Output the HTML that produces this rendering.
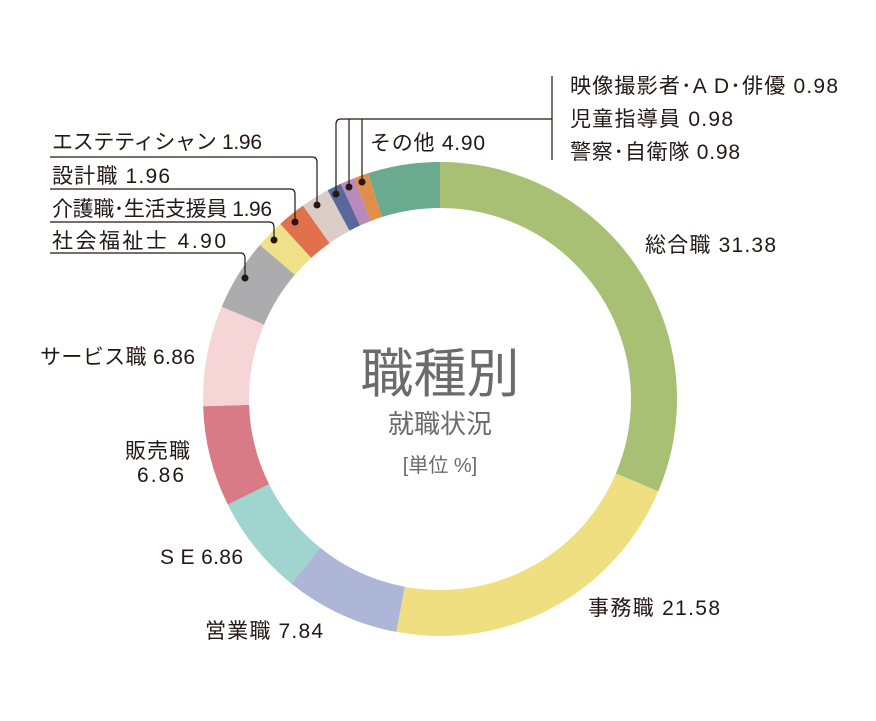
<!DOCTYPE html>
<html><head><meta charset="utf-8"><style>
body{margin:0;background:#fff}
svg text{font-family:"Liberation Sans","Noto Sans CJK JP",sans-serif;fill:#231815;font-size:21px}
</style></head><body>
<svg width="876" height="716" viewBox="0 0 876 716" xmlns="http://www.w3.org/2000/svg">
<g transform="rotate(-90 440 399)" fill="none" stroke-width="46">
<circle cx="440" cy="399" r="214" pathLength="100" stroke="#a7c074" stroke-dasharray="31.38 100" stroke-dashoffset="0"/>
<circle cx="440" cy="399" r="214" pathLength="100" stroke="#efdf80" stroke-dasharray="21.58 100" stroke-dashoffset="-31.38"/>
<circle cx="440" cy="399" r="214" pathLength="100" stroke="#adb6d6" stroke-dasharray="7.84 100" stroke-dashoffset="-52.96"/>
<circle cx="440" cy="399" r="214" pathLength="100" stroke="#a0d4cf" stroke-dasharray="6.86 100" stroke-dashoffset="-60.8"/>
<circle cx="440" cy="399" r="214" pathLength="100" stroke="#d97a87" stroke-dasharray="6.86 100" stroke-dashoffset="-67.66"/>
<circle cx="440" cy="399" r="214" pathLength="100" stroke="#f5d5d6" stroke-dasharray="6.86 100" stroke-dashoffset="-74.52"/>
<circle cx="440" cy="399" r="214" pathLength="100" stroke="#acacae" stroke-dasharray="4.9 100" stroke-dashoffset="-81.38"/>
<circle cx="440" cy="399" r="214" pathLength="100" stroke="#efe187" stroke-dasharray="1.96 100" stroke-dashoffset="-86.28"/>
<circle cx="440" cy="399" r="214" pathLength="100" stroke="#e0714c" stroke-dasharray="1.96 100" stroke-dashoffset="-88.24"/>
<circle cx="440" cy="399" r="214" pathLength="100" stroke="#d9cdc5" stroke-dasharray="1.96 100" stroke-dashoffset="-90.2"/>
<circle cx="440" cy="399" r="214" pathLength="100" stroke="#58689a" stroke-dasharray="0.98 100" stroke-dashoffset="-92.16"/>
<circle cx="440" cy="399" r="214" pathLength="100" stroke="#b98bbb" stroke-dasharray="0.98 100" stroke-dashoffset="-93.14"/>
<circle cx="440" cy="399" r="214" pathLength="100" stroke="#e08e48" stroke-dasharray="0.98 100" stroke-dashoffset="-94.12"/>
<circle cx="440" cy="399" r="214" pathLength="100" stroke="#6aab8f" stroke-dasharray="4.92 100" stroke-dashoffset="-95.1"/>
</g>
<g fill="none" stroke="#231815" stroke-width="1.2">
<path d="M50 157 H312 Q317 157 317 162 V205"/>
<path d="M50 189 H290 Q295 189 295 194 V222"/>
<path d="M50 222 H269 Q274 222 274 227 V240"/>
<path d="M50 253 H240 Q245 253 245 258 V278"/>
<path d="M336 194 V124 Q336 119 341 119 H552"/>
<path d="M349 187 V119"/><path d="M362 182 V119"/>
<path d="M552 76 V160"/>
</g>
<g fill="#231815">
<circle cx="317" cy="205" r="3.5"/><circle cx="295" cy="222" r="3.5"/><circle cx="274" cy="240" r="3.5"/><circle cx="245" cy="278" r="3.5"/>
<circle cx="336" cy="194" r="3.5"/><circle cx="349" cy="187" r="3.5"/><circle cx="362" cy="182" r="3.5"/>
</g>
<g lengthAdjust="spacing">
<text x="570" y="93" textLength="268" lengthAdjust="spacing">映像撮影者･A D･俳優 0.98</text>
<text x="570" y="126" textLength="163" lengthAdjust="spacing">児童指導員 0.98</text>
<text x="570" y="159" textLength="170" lengthAdjust="spacing">警察･自衛隊 0.98</text>
<text x="370" y="150" textLength="115" lengthAdjust="spacing">その他 4.90</text>
<text x="52" y="149" textLength="210" lengthAdjust="spacing">エステティシャン 1.96</text>
<text x="52" y="183" textLength="118" lengthAdjust="spacing">設計職 1.96</text>
<text x="52" y="216" textLength="220" lengthAdjust="spacing">介護職･生活支援員 1.96</text>
<text x="52" y="248" textLength="174" lengthAdjust="spacing">社会福祉士 4.90</text>
<text x="40" y="364" textLength="155" lengthAdjust="spacing">サービス職 6.86</text>
<text x="125" y="458" textLength="65" lengthAdjust="spacing">販売職</text>
<text x="137" y="482" textLength="47" lengthAdjust="spacing">6.86</text>
<text x="160" y="564" textLength="83" lengthAdjust="spacing">S E 6.86</text>
<text x="205" y="638" textLength="118" lengthAdjust="spacing">営業職 7.84</text>
<text x="588" y="615" textLength="132" lengthAdjust="spacing">事務職 21.58</text>
<text x="645" y="252" textLength="131" lengthAdjust="spacing">総合職 31.38</text>
</g>
<text x="440" y="392" text-anchor="middle" style="font-size:53px;fill:#6b6b6b">職種別</text>
<text x="440" y="433" text-anchor="middle" style="font-size:26px;fill:#6b6b6b">就職状況</text>
<text x="440" y="472" text-anchor="middle" style="font-size:20px;fill:#6b6b6b">[単位 %]</text>
</svg>
</body></html>
